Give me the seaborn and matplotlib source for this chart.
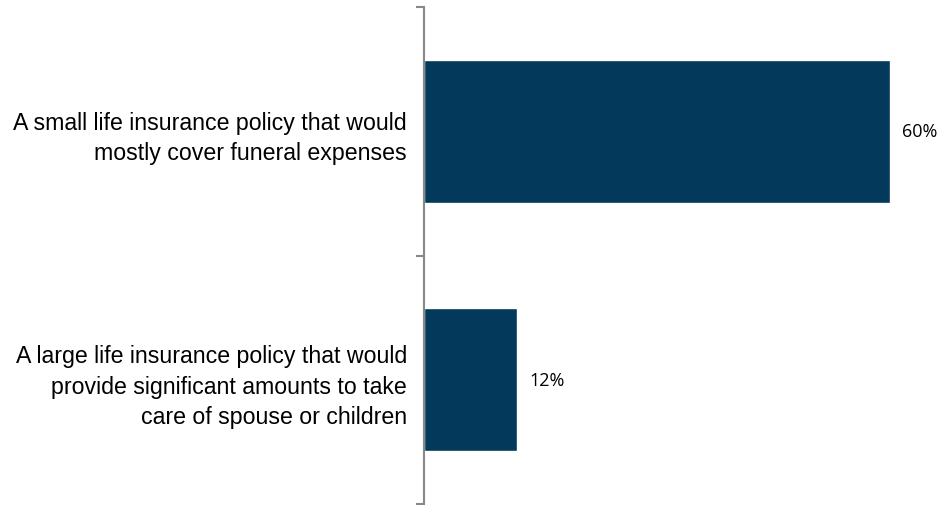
import matplotlib
matplotlib.use("Agg")
import matplotlib.pyplot as plt
import seaborn as sns

# answers and share of respondents (%)
answers = ["A small life insurance policy that would\nmostly cover funeral expenses",
           "A large life insurance policy that would\nprovide significant amounts to take\ncare of spouse or children"]
shares = [60, 12]

sns.set_style("white")
plt.rcParams['font.family'] = ['Liberation Sans', 'DejaVu Sans']

fig = plt.figure(figsize=(9.39, 5.06), dpi=100)
ax = fig.add_axes([424/939, 1/506, 515/939, 497/506])

sns.barplot(x=shares, y=answers, orient="h", color="#03395A", width=0.575,
            saturation=1, ax=ax)

ax.set_xlim(0, 66.3)
ax.set_ylim(1.5, -0.5)
for s in ["top", "right", "bottom"]:
    ax.spines[s].set_visible(False)
ax.spines["left"].set_color("#888888")
ax.spines["left"].set_linewidth(1.5)
ax.set_xticks([])
ax.set_yticks([-0.5, 0.5, 1.5], minor=True)
ax.tick_params(axis="y", which="minor", left=True, length=6, width=1.5, color="#888888")
ax.tick_params(axis="y", which="major", left=False, length=0, pad=12.2)
ax.set_yticks([0, 1])
ax.set_yticklabels(answers, fontsize=16.7, linespacing=1.43, ha="right", color="black")
ax.set_xlabel("")
ax.set_ylabel("")

for i, v in enumerate(shares):
    ax.text(v + 1.6, i, f"{v}%", va="center", ha="left", fontsize=13, color="black",
            family=["Open Sans", "DejaVu Sans"])

fig.savefig("out.png", dpi=100)
